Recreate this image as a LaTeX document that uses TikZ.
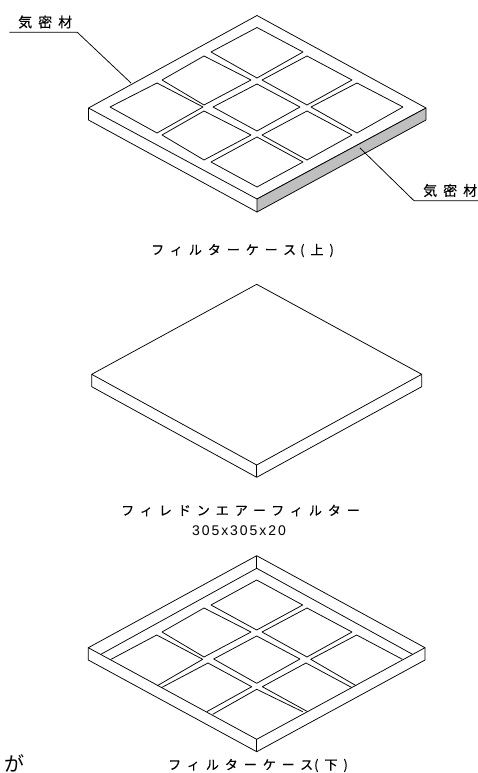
\documentclass[tikz,border=0pt]{standalone}
\usepackage{fontspec}
\usepackage{xcolor}
\usepackage{tikz}
\newfontfamily\cjk{Noto Sans CJK JP}
\newfontfamily\cjkwide[LetterSpace=43,FakeBold=0.3]{Noto Sans CJK JP}
\newfontfamily\cjkcap[LetterSpace=46,FakeBold=0.3]{Noto Sans CJK JP}
\newfontfamily\numcap[LetterSpace=14]{Liberation Sans}
\definecolor{sealgray}{gray}{0.75}
\tikzset{
  caseline/.style={draw=black, line width=0.75pt, line join=round},
  sealtext/.style={inner sep=0pt, anchor=west, font=\cjkwide\fontsize{14}{14}\selectfont},
  captext/.style={inner sep=0pt, anchor=west, font=\cjkcap\fontsize{13}{13}\selectfont},
}
\begin{document}
\begin{tikzpicture}[x=1pt, y=-1pt]
        \useasboundingbox (0,0) rectangle (478,773);
        % upper case
        \draw[caseline] (257,15.5) coordinate (ua) -- (426,108) coordinate (ub)
          -- (257,199) coordinate (uc) -- (88.5,108) coordinate (ud) -- cycle;
        \draw[caseline, fill=sealgray] (uc) -- (ub) -- (426,120) -- (257,212) -- cycle;
        \draw[caseline] (ud) -- (88.5,120) -- (257,212);
        \draw[caseline] (257,27.5) -- (303,52) -- (257,78) -- (211,52) -- cycle;
        \draw[caseline] (204,56) -- (251,80) -- (204,105) -- (162,80) -- cycle;
        \draw[caseline] (307,56) -- (352,80) -- (307,105) -- (262,80) -- cycle;
        \draw[caseline] (157,83) -- (203,107) -- (157,133) -- (110,107) -- cycle;
        \draw[caseline] (257,84) -- (300,107) -- (257,131) -- (213,107) -- cycle;
        \draw[caseline] (357,83) -- (403,107) -- (357,133) -- (311,107) -- cycle;
        \draw[caseline] (204,111) -- (251,135) -- (204,160) -- (162,135) -- cycle;
        \draw[caseline] (307,111) -- (352,135) -- (307,160) -- (262,135) -- cycle;
        \draw[caseline] (257,137) -- (303,162) -- (257,187) -- (211,162) -- cycle;
        % leaders
        \node[sealtext] (sealtop) at (18,22) {気密材};
        \node[sealtext] (sealright) at (423,190.5) {気密材};
        \draw[caseline] (9.3,32.3) -- (77.3,32.3) -- (131,83);
        \draw[caseline] (478,200.7) -- (414,200.7) -- (360,148);
        \node[captext] (capupper) at (151,250.5) {フィルターケース\hspace{4pt}(上)};
        % filter
        \draw[caseline] (256.7,284.3) coordinate (fa) -- (421.7,374.3) coordinate (fb)
          -- (256.7,465) coordinate (fc) -- (91.7,374.3) coordinate (fd) -- cycle;
        \draw[caseline] (fd) -- (91.7,386.7) -- (256.7,477.3) -- (421.7,386.7) -- (fb);
        \draw[caseline] (fc) -- (256.7,477.3);
        \node[captext] (capfilter) at (121,510.5) {フィレドンエアーフィルター};
        \node[inner sep=0pt, font=\numcap\fontsize{14}{14}\selectfont] (capsize) at (239,530.5) {305x305x20};
        % lower case
        \draw[caseline] (256.7,555.7) coordinate (la) -- (425,647.7) coordinate (lb)
          -- (256.7,739.3) coordinate (lc) -- (88.3,647.7) coordinate (ld) -- cycle;
        \draw[caseline] (ld) -- (88.3,660) -- (256.7,751.7) -- (425,660) -- (lb);
        \draw[caseline] (lc) -- (256.7,751.7);
        \draw[caseline] (la) -- (256.7,568.3) coordinate (le);
        \draw[caseline] (100.7,654.4) -- (le) -- (412.7,654.4);
        \draw[caseline] (256.7,580) -- (302.7,605) -- (256.7,630) -- (211,605) -- cycle;
        \draw[caseline] (204,608) -- (251,632) -- (204,657) -- (162,632) -- cycle;
        \draw[caseline] (307,608) -- (352,632) -- (307,657) -- (262,632) -- cycle;
        \draw[caseline] (111,659.3) -- (156.7,635) -- (202.7,659.3) -- (157.3,685.7);
        \draw[caseline] (256.7,636) -- (300,659) -- (256.7,683.3) -- (213.7,659) -- cycle;
        \draw[caseline] (402.4,659.3) -- (356.7,635) -- (310.7,659.3) -- (356.1,685.7);
        \draw[caseline] (161.7,687.5) -- (208,663) -- (251.7,686.7) -- (206.7,711.7);
        \draw[caseline] (351.7,687.5) -- (306,663) -- (262.3,686.7) -- (307.7,711.7);
        \draw[caseline] (212.7,714.3) -- (256.7,689.3) -- (302.7,711.7);
        \node[captext] (caplower) at (168,765.5) {フィルターケース\hspace{1pt}(下)};
        \node[inner sep=0pt, anchor=east, font=\cjk\fontsize{20}{20}\selectfont] (tailkana) at (25,763) {が};
\end{tikzpicture}
\end{document}
